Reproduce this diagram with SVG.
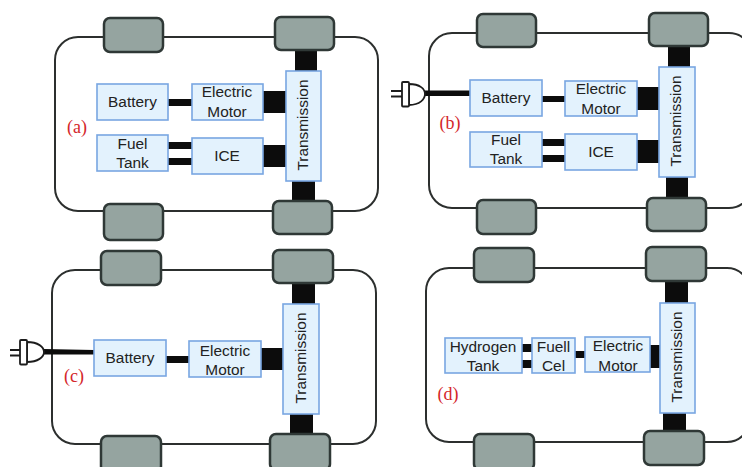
<svg xmlns="http://www.w3.org/2000/svg" width="742" height="467" viewBox="0 0 742 467">
<style>
.body{fill:#fff;stroke:#2c2f2e;stroke-width:2}
.wheel{fill:#95a4a0;stroke:#2f3836;stroke-width:2.5}
.box{fill:#e3f2fd;stroke:#78a6e2;stroke-width:1.6}
.c{fill:#0c0c0c}
.plug{fill:#fff;stroke:#1c1c1c;stroke-width:1.8}
text{font-family:"Liberation Sans",Arial,sans-serif;font-size:15.4px;fill:#222;text-anchor:middle}
text.lab{font-family:"Liberation Serif","Times New Roman",serif;font-size:18px;fill:#d4262a}
</style>
<rect width="742" height="467" fill="#fff"/>
<g id="car-bodies">
<rect class="body" x="55" y="37" width="323" height="174" rx="23"/>
<rect class="body" x="429" y="33" width="323" height="175" rx="23"/>
<rect class="body" x="52" y="270" width="324" height="174" rx="23"/>
<rect class="body" x="426" y="268" width="324" height="174" rx="23"/>
</g>
<g id="connectors">
<rect class="c" x="295" y="50" width="22" height="22"/><rect class="c" x="292" y="181" width="23" height="21"/>
<rect class="c" x="168" y="99" width="24" height="7"/><rect class="c" x="168" y="142" width="24" height="7"/><rect class="c" x="168" y="158" width="24" height="7"/>
<rect class="c" x="263" y="91" width="23" height="22"/><rect class="c" x="263" y="145" width="23" height="22"/>
<rect class="c" x="668" y="46" width="22" height="22"/><rect class="c" x="666" y="177" width="22" height="21"/>
<rect class="c" x="425" y="90.500" width="45" height="5.500"/>
<rect class="c" x="542" y="96" width="23" height="6"/><rect class="c" x="542" y="139" width="23" height="7"/><rect class="c" x="542" y="155" width="23" height="7"/>
<rect class="c" x="637" y="87" width="22" height="23"/><rect class="c" x="637" y="140" width="22" height="23"/>
<rect class="c" x="292" y="283" width="23" height="21"/><rect class="c" x="290" y="414" width="23" height="21"/>
<path class="c" d="M44 349L94 350V354.500L44 354.500Z"/>
<rect class="c" x="166" y="356" width="23" height="7"/><rect class="c" x="261" y="348" width="22" height="22"/>
<rect class="c" x="665" y="281" width="23" height="22"/><rect class="c" x="663" y="413" width="23" height="20"/>
<rect class="c" x="522" y="344" width="10" height="8"/><rect class="c" x="522" y="360" width="10" height="8"/>
<rect class="c" x="575" y="351" width="10" height="7"/><rect class="c" x="650" y="345" width="10" height="23"/>
</g>
<g id="panel-a">
<text class="lab" x="77" y="133">(a)</text>
<g id="a-wheels"><rect class="wheel" x="104" y="18" width="59" height="34" rx="6"/><rect class="wheel" x="275" y="17" width="59" height="33" rx="6"/><rect class="wheel" x="104" y="204" width="59" height="36" rx="6"/><rect class="wheel" x="273" y="201" width="59" height="33" rx="6"/></g>
<g id="a-battery"><rect class="box" x="97" y="84" width="71" height="36"/><text x="132.500" y="107">Battery</text></g>
<g id="a-motor"><rect class="box" x="192" y="84" width="71" height="36"/><text x="227" y="97">Electric</text><text x="227" y="117">Motor</text></g>
<g id="a-fuel"><rect class="box" x="97" y="135" width="71" height="36"/><text x="132.500" y="149">Fuel</text><text x="132.500" y="168">Tank</text></g>
<g id="a-ice"><rect class="box" x="192" y="138" width="71" height="36"/><text x="227" y="160.500">ICE</text></g>
<g id="a-transmission"><rect class="box" x="286" y="71" width="35" height="110"/><text transform="translate(308 125) rotate(-90)">Transmission</text></g>
</g>
<g id="panel-b">
<text class="lab" x="450" y="129">(b)</text>
<g id="b-wheels"><rect class="wheel" x="477" y="14" width="59" height="33" rx="6"/><rect class="wheel" x="649" y="13" width="59" height="33" rx="6"/><rect class="wheel" x="477" y="200" width="59" height="34" rx="6"/><rect class="wheel" x="647" y="198" width="59" height="33" rx="6"/></g>
<g id="b-plug"><path class="plug" d="M391 91H402M391 96.500H402" fill="none"/><path class="plug" d="M409 84C420 84 425 89 425 94C425 99 420 105 409 105Z"/><rect class="plug" x="402" y="82" width="7" height="24.500" rx="1"/></g>
<g id="b-battery"><rect class="box" x="470" y="80" width="72" height="36"/><text x="506" y="103">Battery</text></g>
<g id="b-motor"><rect class="box" x="565" y="81" width="72" height="35"/><text x="601" y="94">Electric</text><text x="601" y="114">Motor</text></g>
<g id="b-fuel"><rect class="box" x="470" y="132" width="72" height="35"/><text x="506" y="145">Fuel</text><text x="506" y="164">Tank</text></g>
<g id="b-ice"><rect class="box" x="565" y="134" width="72" height="36"/><text x="601" y="156.500">ICE</text></g>
<g id="b-transmission"><rect class="box" x="659" y="67" width="36" height="110"/><text transform="translate(681 121) rotate(-90)">Transmission</text></g>
</g>
<g id="panel-c">
<text class="lab" x="74" y="382">(c)</text>
<g id="c-wheels"><rect class="wheel" x="101" y="251" width="60" height="34" rx="6"/><rect class="wheel" x="273" y="250" width="60" height="33" rx="6"/><rect class="wheel" x="101" y="436" width="60" height="36" rx="6"/><rect class="wheel" x="270" y="434" width="60" height="36" rx="6"/></g>
<g id="c-plug"><path class="plug" d="M10 350H20M10 355.500H20" fill="none"/><path class="plug" d="M27 342C38 342 44 347 44 352C44 357 38 362 27 362Z"/><rect class="plug" x="20" y="340" width="7" height="24.500" rx="1"/></g>
<g id="c-battery"><rect class="box" x="94" y="340" width="72" height="36"/><text x="130" y="362.500">Battery</text></g>
<g id="c-motor"><rect class="box" x="189" y="341" width="72" height="36"/><text x="225" y="355.500">Electric</text><text x="225" y="375">Motor</text></g>
<g id="c-transmission"><rect class="box" x="283" y="304" width="36" height="110"/><text transform="translate(306 358) rotate(-90)">Transmission</text></g>
</g>
<g id="panel-d">
<text class="lab" x="448" y="400">(d)</text>
<g id="d-wheels"><rect class="wheel" x="474" y="248" width="60" height="34" rx="6"/><rect class="wheel" x="646" y="247" width="60" height="34" rx="6"/><rect class="wheel" x="474" y="434" width="60" height="36" rx="6"/><rect class="wheel" x="644" y="431" width="60" height="34" rx="6"/></g>
<g id="d-hydrogen"><rect class="box" x="445" y="338" width="77" height="35"/><text x="483" y="351.500">Hydrogen</text><text x="483" y="371">Tank</text></g>
<g id="d-fuelcell"><rect class="box" x="532" y="338" width="43" height="35"/><text x="553.500" y="351.500">Fuell</text><text x="553.500" y="371">Cel</text></g>
<g id="d-motor"><rect class="box" x="585" y="337" width="65" height="35"/><text x="618" y="351">Electric</text><text x="618" y="371">Motor</text></g>
<g id="d-transmission"><rect class="box" x="660" y="303" width="35" height="110"/><text transform="translate(682 357) rotate(-90)">Transmission</text></g>
</g>
</svg>
